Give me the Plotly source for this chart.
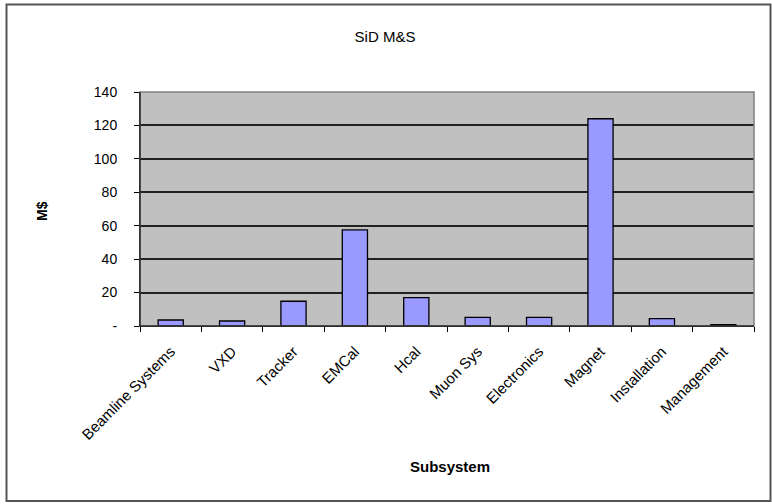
import plotly.graph_objects as go

categories = ["Beamline Systems", "VXD", "Tracker", "EMCal", "Hcal", "Muon Sys",
              "Electronics", "Magnet", "Installation", "Management"]
values = [3.6, 3.0, 14.8, 57.5, 17.0, 5.2, 5.2, 124.0, 4.4, 0.8]
tick_vals = [0, 20, 40, 60, 80, 100, 120, 140]
tick_text = ["-", "20", "40", "60", "80", "100", "120", "140"]

W, H = 772, 504
L, R, T, B = 140, 18, 92, 178
pw, ph = W - L - R, H - T - B

def px_x(x):
    return (x - L) / pw

def px_y(y):
    return (H - B - y) / ph

font = "Arial, Liberation Sans, sans-serif"

fig = go.Figure()
fig.add_trace(go.Bar(
    x=categories, y=values,
    marker=dict(color="#9999FF", line=dict(color="black", width=1.3)),
))

fig.update_layout(
    width=W, height=H,
    margin=dict(l=L, r=R, t=T, b=B, autoexpand=False),
    paper_bgcolor="white", plot_bgcolor="#C0C0C0",
    bargap=0.59,
    showlegend=False,
    font=dict(family=font, size=12, color="black"),
    title=dict(text="SiD M&S", x=px_x(385), xref="paper", xanchor="center",
               y=1 - 37 / H, yanchor="middle",
               font=dict(family=font, size=15, color="black")),
    xaxis=dict(
        tickangle=-45, ticks="outside", ticklen=5, tickcolor="black",
        tickson="boundaries", ticklabelstandoff=10,
        showline=True, linecolor="black", linewidth=1,
        showgrid=False,
        tickfont=dict(family=font, size=15),
    ),
    yaxis=dict(
        range=[0, 140], tickvals=tick_vals, ticktext=tick_text,
        ticks="outside", ticklen=5, tickcolor="black",
        ticklabelstandoff=14,
        showline=True, linecolor="black", linewidth=1,
        showgrid=True, gridcolor="#222222", gridwidth=1.5,
        zeroline=False,
        tickfont=dict(family=font, size=14),
    ),
    shapes=[
        dict(type="rect", xref="paper", yref="paper",
             x0=0, x1=1, y0=0, y1=1,
             line=dict(color="#808080", width=1.5), layer="above"),
        dict(type="rect", xref="paper", yref="paper",
             x0=px_x(6.5), x1=px_x(770.5), y0=px_y(501), y1=px_y(4.5),
             line=dict(color="#555555", width=2)),
        dict(type="line", xref="paper", yref="paper", x0=0, x1=0, y0=0, y1=1,
             line=dict(color="black", width=1), layer="above"),
        dict(type="line", xref="paper", yref="paper", x0=0, x1=1, y0=0, y1=0,
             line=dict(color="black", width=1), layer="above"),
    ],
    annotations=[
        dict(text="<b>Subsystem</b>", xref="paper", yref="paper",
             x=px_x(450), y=px_y(466), xanchor="center", yanchor="middle",
             showarrow=False, font=dict(family=font, size=15)),
        dict(text="<b>M$</b>", xref="paper", yref="paper",
             x=px_x(42), y=px_y(211), xanchor="center", yanchor="middle",
             showarrow=False, textangle=-90,
             font=dict(family=font, size=14)),
    ],
)

fig.write_html("out.html",
               config={"displayModeBar": False},
               post_script="document.body.style.margin='0';document.body.style.overflow='hidden';")
